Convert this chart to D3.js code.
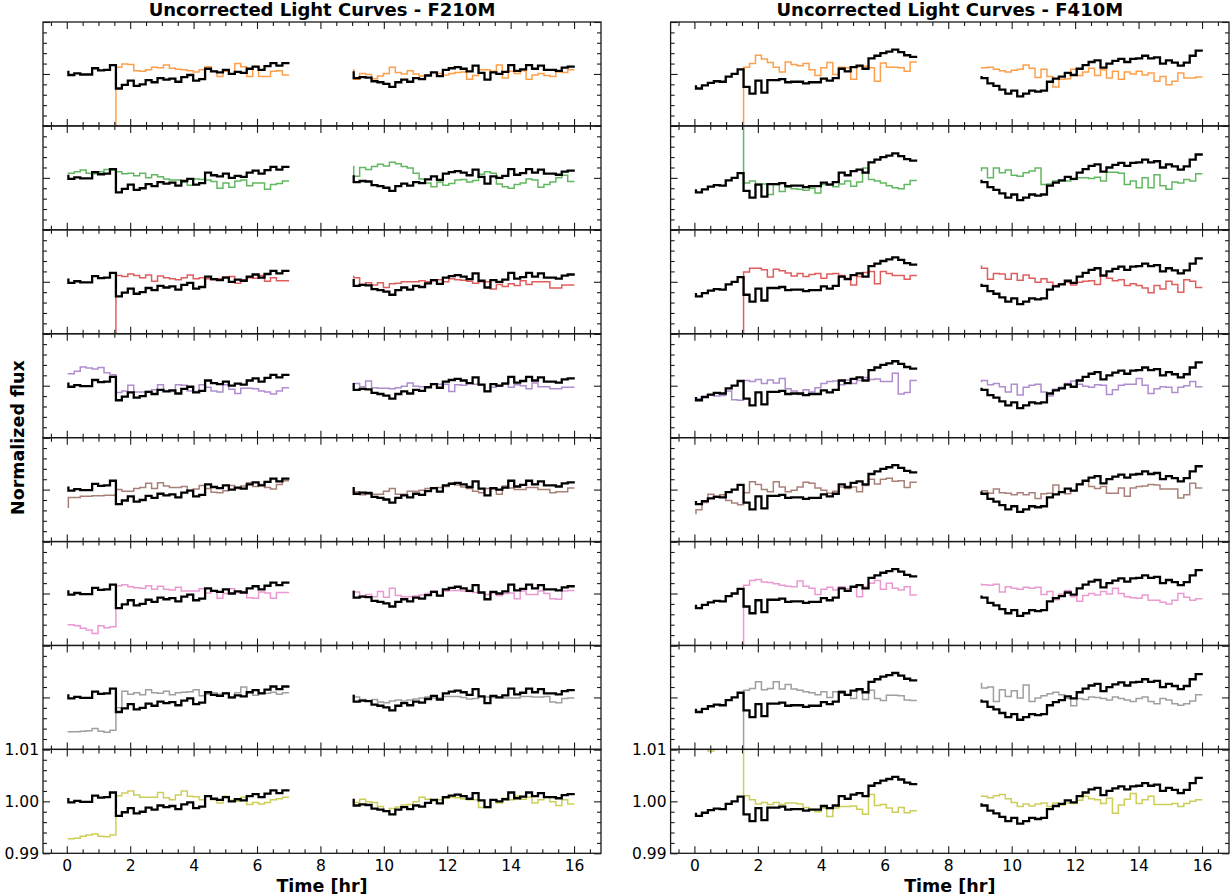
<!DOCTYPE html>
<html><head><meta charset="utf-8">
<script src="https://cdn.jsdelivr.net/npm/d3@7"></script>
<style>body{margin:0;background:#fff}svg{display:block}text{font-family:"DejaVu Sans",sans-serif}</style>
</head><body><svg id="c" width="1232" height="895"></svg>
<script>
// ---------------- DATA ----------------
const titles = ["Uncorrected Light Curves - F210M", "Uncorrected Light Curves - F410M"];
const xLabel = "Time [hr]";
const yLabel = "Normalized flux";
const xTicks = [0, 2, 4, 6, 8, 10, 12, 14, 16];
const yTicks = [0.99, 1.00, 1.01];
const seriesColors = ["#ff7f0e", "#2ca02c", "#d62728", "#9467bd", "#8c564b", "#e377c2", "#7f7f7f", "#bcbd22"];

const timeA = [0.05,0.2375,0.425,0.6125,0.8,0.9875,1.175,1.3625,1.55,1.7375,1.925,2.1125,2.3,2.4875,2.675,2.8625,3.05,3.2375,3.425,3.6125,3.8,3.9875,4.175,4.3625,4.55,4.7375,4.925,5.1125,5.3,5.4875,5.675,5.8625,6.05,6.2375,6.425,6.6125,6.8,6.9875];
const timeB = [9.05,9.2375,9.425,9.6125,9.8,9.9875,10.175,10.3625,10.55,10.7375,10.925,11.1125,11.3,11.4875,11.675,11.8625,12.05,12.2375,12.425,12.6125,12.8,12.9875,13.175,13.3625,13.55,13.7375,13.925,14.1125,14.3,14.4875,14.675,14.8625,15.05,15.2375,15.425,15.6125,15.8,15.9875];

// F210M
const f210_black_1 = [1.0004,0.9998,1.0001,0.9999,0.9999,1.0011,1.0007,1.0008,1.0017,0.9972,0.9979,0.9987,0.9977,0.9980,0.9988,0.9984,0.9992,0.9989,0.9991,0.9985,0.9994,0.9998,0.9987,0.9990,1.0010,1.0005,1.0003,1.0008,1.0000,1.0004,1.0002,1.0010,1.0014,1.0008,1.0015,1.0021,1.0016,1.0021];
const f210_black_2 = [1.0003,0.9992,0.9994,0.9993,0.9986,0.9984,0.9981,0.9975,0.9984,0.9989,0.9985,0.9992,0.9990,0.9997,1.0003,0.9996,1.0008,1.0011,1.0013,1.0010,1.0005,1.0016,1.0002,0.9989,1.0003,1.0000,1.0004,1.0017,1.0006,1.0009,1.0017,1.0010,1.0016,1.0008,1.0008,1.0006,1.0012,1.0014];
const f210_orange_1 = [null,null,null,null,null,null,null,null,0.95,1.0013,1.0019,1.0018,1.0006,1.0005,1.0008,1.0013,1.0012,1.0017,1.0011,1.0009,1.0008,1.0006,1.0004,1.0008,1.0014,1.0005,0.9995,1.0005,1.0000,1.0020,1.0014,0.9995,1.0014,0.9995,0.9995,1.0005,1.0006,0.9998];
const f210_orange_2 = [1.0008,0.9990,1.0001,0.9999,0.9991,0.9996,1.0001,1.0013,1.0003,1.0000,1.0006,1.0000,0.9996,0.9998,1.0003,1.0001,0.9998,1.0001,1.0003,1.0004,0.9990,0.9997,1.0008,1.0008,1.0005,1.0017,0.9992,1.0005,1.0001,1.0006,0.9990,0.9998,1.0001,0.9997,0.9995,1.0004,1.0003,1.0008];
const f210_green_1 = [1.0009,1.0009,1.0012,1.0015,1.0009,1.0008,1.0012,1.0016,1.0015,1.0012,1.0008,1.0009,1.0004,1.0009,1.0000,1.0006,1.0002,0.9998,0.9996,0.9996,0.9992,0.9986,0.9998,0.9997,0.9996,0.9993,0.9980,0.9990,0.9982,0.9994,0.9996,0.9985,0.9990,0.9990,0.9978,0.9987,0.9989,0.9994];
const f210_green_2 = [1.0022,1.0003,1.0020,1.0016,1.0022,1.0026,1.0023,1.0030,1.0027,1.0022,1.0019,1.0009,0.9998,0.9990,0.9983,0.9992,0.9986,0.9989,0.9996,0.9997,0.9992,0.9995,1.0007,1.0012,1.0009,0.9988,0.9983,0.9980,0.9987,0.9990,0.9998,0.9996,0.9982,0.9987,0.9992,1.0000,1.0005,0.9993];
const f210_red_1 = [null,null,null,null,null,null,null,null,0.95,1.0012,1.0010,1.0015,1.0012,1.0008,1.0013,1.0001,1.0011,1.0008,1.0006,1.0004,1.0008,1.0013,1.0006,1.0008,1.0006,1.0004,1.0006,1.0009,1.0010,0.9997,1.0004,1.0008,1.0007,1.0012,1.0001,1.0008,1.0002,1.0002];
const f210_red_2 = [1.0010,1.0008,0.9995,0.9998,0.9994,0.9998,0.9989,0.9996,0.9997,1.0000,1.0000,1.0000,1.0002,1.0000,1.0002,1.0004,1.0000,1.0006,1.0004,1.0003,1.0001,0.9997,1.0000,1.0000,0.9986,0.9995,0.9991,0.9996,0.9993,1.0002,0.9995,1.0000,1.0000,1.0000,0.9988,0.9988,0.9994,0.9994];
const f210_purple_1 = [1.0023,1.0023,1.0028,1.0036,1.0034,1.0032,1.0035,1.0025,1.0021,0.9987,0.9990,1.0001,0.9988,0.9988,0.9989,0.9992,1.0002,0.9990,0.9989,1.0002,1.0001,0.9990,0.9989,1.0002,0.9997,0.9990,0.9988,1.0002,0.9993,0.9985,0.9995,0.9995,0.9994,0.9990,0.9988,0.9984,0.9990,0.9996];
const f210_purple_2 = [1.0004,1.0004,0.9998,1.0009,0.9996,0.9995,0.9995,0.9994,0.9996,0.9999,1.0005,0.9999,0.9998,0.9998,1.0003,1.0003,1.0003,0.9989,1.0002,1.0001,1.0004,1.0003,1.0002,0.9990,0.9997,0.9999,1.0005,0.9997,1.0002,1.0000,0.9994,1.0005,0.9998,0.9998,0.9994,0.9994,0.9997,0.9997];
const f210_brown_1 = [0.9966,0.9985,0.9985,0.9987,0.9987,0.9988,0.9988,0.9989,0.9989,1.0000,0.9997,0.9997,1.0002,1.0004,1.0012,1.0002,1.0013,1.0007,1.0004,1.0004,1.0006,0.9999,1.0001,1.0008,1.0002,0.9995,0.9994,0.9998,1.0008,1.0002,1.0007,1.0013,1.0006,1.0010,1.0004,1.0001,1.0010,1.0017];
const f210_brown_2 = [0.9999,0.9996,0.9990,0.9995,0.9991,0.9991,0.9997,1.0002,0.9991,0.9991,0.9997,0.9997,0.9999,1.0002,1.0002,1.0004,1.0006,1.0013,1.0009,1.0005,1.0002,0.9997,0.9994,1.0002,1.0001,0.9991,1.0007,1.0003,1.0000,1.0000,1.0004,1.0004,1.0000,1.0000,0.9994,0.9996,0.9996,1.0003];
const f210_pink_1 = [0.9940,0.9940,0.9938,0.9933,0.9930,0.9923,0.9938,0.9934,0.9936,1.0015,1.0017,1.0013,1.0011,1.0010,1.0015,1.0008,1.0014,1.0008,1.0007,1.0012,1.0005,1.0005,1.0005,1.0009,1.0001,1.0006,0.9991,1.0000,1.0009,1.0002,1.0004,0.9992,0.9991,1.0003,1.0001,0.9991,1.0002,1.0002];
const f210_pink_2 = [1.0005,1.0003,0.9995,0.9998,0.9994,1.0004,0.9993,1.0010,0.9996,0.9994,0.9994,0.9995,0.9997,1.0000,1.0005,0.9995,1.0005,1.0006,1.0006,1.0005,1.0004,1.0002,1.0001,0.9998,1.0001,0.9996,1.0000,1.0001,0.9990,1.0005,0.9998,0.9998,1.0005,1.0000,0.9990,0.9989,1.0005,1.0006];
const f210_gray_1 = [0.9934,0.9934,0.9934,0.9935,0.9936,0.9940,0.9935,0.9933,0.9937,0.9980,1.0012,1.0006,1.0009,1.0005,1.0015,1.0009,1.0008,1.0012,1.0005,1.0009,1.0010,1.0011,1.0015,1.0003,1.0006,1.0009,1.0006,1.0009,0.9999,1.0009,1.0020,1.0010,1.0004,1.0009,1.0008,1.0010,1.0006,1.0009];
const f210_gray_2 = [1.0004,1.0001,0.9996,0.9993,0.9996,0.9991,0.9990,0.9993,0.9995,0.9993,0.9995,0.9997,0.9999,1.0001,0.9999,0.9999,1.0002,1.0002,1.0002,1.0000,0.9997,0.9998,1.0002,1.0001,1.0000,1.0000,0.9999,0.9999,0.9999,1.0002,1.0002,1.0001,1.0001,1.0002,0.9991,0.9990,0.9998,0.9999];
const f210_olive_1 = [0.9928,0.9928,0.9929,0.9933,0.9935,0.9937,0.9933,0.9932,0.9935,1.0011,1.0016,1.0020,1.0012,1.0008,1.0008,1.0008,1.0017,1.0007,1.0003,1.0012,1.0020,1.0010,1.0009,1.0003,1.0010,1.0003,0.9997,1.0010,1.0002,1.0000,1.0008,0.9994,0.9998,0.9995,0.9998,1.0003,1.0005,1.0008];
const f210_olive_2 = [1.0003,0.9998,1.0004,0.9999,0.9998,0.9990,0.9982,0.9986,0.9989,0.9993,0.9994,0.9999,1.0008,1.0004,1.0000,1.0003,1.0006,1.0008,1.0007,1.0005,1.0003,1.0003,0.9988,0.9988,1.0003,0.9997,1.0006,1.0003,1.0010,1.0004,1.0008,0.9997,1.0003,1.0008,0.9999,0.9992,1.0003,0.9995];

// F410M
const f410_black_1 = [0.9976,0.9972,0.9978,0.9983,0.9986,0.9985,0.9995,1.0000,1.0009,0.9975,0.9962,0.9987,0.9964,0.9988,0.9988,0.9990,0.9984,0.9985,0.9985,0.9982,0.9984,0.9984,0.9991,0.9987,0.9992,1.0010,1.0005,1.0013,1.0016,1.0010,1.0030,1.0035,1.0040,1.0043,1.0047,1.0042,1.0036,1.0033];
const f410_black_2 = [0.9994,0.9992,0.9982,0.9977,0.9970,0.9962,0.9968,0.9957,0.9962,0.9968,0.9966,0.9968,0.9985,0.9991,0.9995,1.0002,0.9998,1.0010,1.0017,1.0023,1.0026,1.0012,1.0020,1.0025,1.0029,1.0023,1.0029,1.0030,1.0035,1.0030,1.0032,1.0020,1.0026,1.0022,1.0016,1.0022,1.0035,1.0045];
const f410_orange_1 = [null,null,null,null,null,null,null,null,0.95,1.0013,1.0020,1.0036,1.0029,1.0022,1.0013,1.0004,1.0023,1.0018,1.0016,1.0020,1.0008,0.9997,1.0012,1.0022,0.9999,1.0013,1.0012,0.9990,1.0014,1.0015,1.0012,0.9986,1.0021,1.0013,1.0013,1.0012,1.0005,1.0023];
const f410_orange_2 = [1.0012,1.0012,1.0013,1.0009,1.0006,1.0004,1.0007,1.0009,1.0017,1.0011,0.9993,1.0009,0.9995,0.9975,0.9990,0.9991,1.0009,0.9997,1.0004,1.0011,0.9997,1.0008,0.9992,1.0005,0.9990,1.0004,1.0000,1.0005,0.9998,1.0002,0.9986,0.9995,0.9979,0.9986,1.0002,0.9992,0.9992,0.9994];
const f410_green_1 = [null,null,null,null,null,null,null,null,1.02,0.9990,0.9994,0.9988,0.9988,0.9968,0.9987,0.9974,0.9982,0.9979,0.9978,0.9976,0.9980,0.9971,0.9987,0.9988,0.9983,0.9988,0.9994,0.9984,0.9992,1.0019,0.9997,0.9994,0.9990,0.9985,0.9981,0.9979,0.9987,0.9995];
const f410_green_2 = [1.0014,1.0019,1.0000,1.0019,1.0010,1.0015,1.0005,1.0003,1.0010,1.0013,1.0019,0.9987,0.9988,0.9994,0.9994,0.9994,0.9997,1.0000,1.0000,0.9999,1.0001,0.9994,1.0011,1.0011,1.0009,0.9987,0.9994,0.9981,1.0000,0.9981,1.0006,0.9985,0.9978,0.9992,0.9990,0.9997,0.9994,1.0008];
const f410_red_1 = [null,null,null,null,null,null,null,null,0.95,1.0019,1.0026,1.0026,1.0023,1.0009,1.0024,1.0021,1.0017,1.0011,1.0016,1.0010,1.0014,1.0016,1.0007,1.0015,1.0016,1.0012,1.0007,0.9994,1.0010,1.0018,1.0020,0.9996,1.0020,1.0016,1.0012,1.0012,1.0005,1.0012];
const f410_red_2 = [1.0030,1.0026,1.0005,1.0016,1.0015,1.0005,1.0016,1.0003,1.0013,1.0007,0.9999,1.0006,0.9999,0.9993,0.9996,0.9999,0.9994,0.9999,1.0001,1.0002,0.9995,1.0013,1.0007,1.0002,1.0004,0.9993,0.9996,0.9993,0.9988,0.9979,0.9993,0.9986,1.0001,0.9995,0.9980,1.0004,1.0001,0.9989];
const f410_purple_1 = [0.9976,0.9975,0.9980,0.9982,0.9980,0.9981,0.9990,0.9973,0.9972,1.0010,1.0008,1.0012,1.0004,1.0011,1.0005,1.0014,0.9994,0.9990,0.9983,0.9992,0.9988,0.9996,1.0004,1.0008,1.0009,1.0002,1.0011,1.0004,1.0010,1.0016,1.0012,1.0013,1.0008,1.0008,1.0024,0.9984,0.9987,1.0010];
const f410_purple_2 = [1.0008,1.0010,1.0002,1.0004,0.9998,0.9988,1.0003,0.9982,0.9997,1.0001,1.0003,0.9988,0.9980,0.9993,0.9997,1.0004,1.0009,1.0003,0.9999,0.9997,1.0002,1.0001,0.9983,0.9992,1.0001,1.0003,1.0003,1.0014,1.0001,0.9985,0.9994,0.9998,0.9997,0.9987,0.9997,1.0000,1.0008,0.9998];
const f410_brown_1 = [0.9954,0.9961,0.9975,0.9991,0.9987,0.9990,0.9979,0.9974,0.9971,0.9994,1.0015,1.0010,1.0000,0.9996,1.0015,1.0005,0.9996,0.9999,1.0005,1.0014,1.0012,1.0003,0.9999,0.9993,0.9997,1.0005,1.0002,1.0005,0.9996,1.0008,1.0020,1.0011,1.0020,1.0022,1.0016,1.0017,1.0004,1.0014];
const f410_brown_2 = [0.9993,0.9998,0.9993,1.0001,0.9994,0.9993,0.9990,0.9994,0.9990,0.9994,0.9983,0.9992,0.9993,1.0009,0.9996,0.9992,0.9998,1.0011,1.0016,1.0006,1.0002,1.0006,0.9993,0.9993,1.0003,0.9987,1.0003,1.0006,1.0007,1.0010,1.0009,1.0001,1.0001,1.0001,0.9984,0.9990,1.0012,1.0003];
const f410_pink_1 = [null,null,null,null,null,null,null,null,0.95,1.0016,1.0025,1.0027,1.0022,1.0021,1.0019,1.0016,1.0014,1.0013,1.0024,1.0014,1.0010,0.9998,1.0008,1.0012,1.0007,1.0013,1.0009,1.0013,0.9994,1.0013,1.0020,1.0025,1.0008,1.0020,1.0010,1.0007,1.0013,0.9997];
const f410_pink_2 = [1.0018,1.0017,1.0016,1.0018,1.0003,1.0013,1.0010,1.0008,1.0012,1.0010,1.0012,0.9998,1.0004,0.9988,0.9999,1.0006,0.9994,0.9985,0.9996,1.0000,0.9997,1.0004,0.9999,1.0010,1.0000,0.9994,0.9992,0.9991,0.9997,0.9987,0.9987,0.9983,0.9980,0.9987,1.0000,0.9993,0.9987,0.9990];
const f410_gray_1 = [null,null,null,null,null,null,null,null,0.95,1.0014,1.0017,1.0030,1.0015,1.0017,1.0030,1.0016,1.0025,1.0016,1.0014,1.0011,1.0009,1.0005,1.0011,1.0000,1.0011,1.0013,1.0004,0.9998,1.0014,0.9996,1.0014,0.9998,0.9994,1.0004,1.0004,1.0003,0.9995,0.9994];
const f410_gray_2 = [1.0027,1.0018,1.0020,0.9992,1.0015,1.0002,1.0013,0.9999,1.0024,0.9992,0.9999,1.0003,1.0007,1.0010,1.0005,0.9998,0.9984,0.9998,0.9996,1.0001,1.0000,0.9998,0.9995,1.0001,0.9998,0.9995,0.9992,0.9998,1.0001,0.9992,0.9988,0.9998,0.9995,0.9988,0.9985,0.9988,0.9993,1.0005];
const f410_olive_1 = [1.0120,1.0120,1.0112,1.0097,1.0108,1.0115,1.0118,1.0109,1.0102,1.0011,1.0003,0.9995,0.9998,0.9994,0.9998,0.9994,0.9997,0.9997,0.9995,0.9988,0.9985,0.9980,0.9987,0.9971,0.9987,0.9990,0.9990,0.9991,0.9985,0.9975,1.0013,0.9992,0.9994,0.9987,0.9979,0.9988,0.9978,0.9982];
const f410_olive_2 = [1.0010,1.0010,1.0007,1.0011,1.0013,1.0005,0.9998,0.9990,0.9995,0.9991,0.9995,0.9997,0.9990,0.9997,0.9993,0.9997,0.9996,1.0002,1.0010,1.0005,1.0003,0.9996,1.0006,0.9977,0.9993,1.0004,1.0015,0.9996,1.0003,1.0010,0.9994,0.9994,0.9994,0.9996,0.9990,0.9996,1.0000,1.0003];

// --------- tables built from the named arrays ---------
const columns = [
  { title: titles[0], black: [f210_black_1, f210_black_2],
    series: [[f210_orange_1,f210_orange_2],[f210_green_1,f210_green_2],[f210_red_1,f210_red_2],[f210_purple_1,f210_purple_2],
             [f210_brown_1,f210_brown_2],[f210_pink_1,f210_pink_2],[f210_gray_1,f210_gray_2],[f210_olive_1,f210_olive_2]] },
  { title: titles[1], black: [f410_black_1, f410_black_2],
    series: [[f410_orange_1,f410_orange_2],[f410_green_1,f410_green_2],[f410_red_1,f410_red_2],[f410_purple_1,f410_purple_2],
             [f410_brown_1,f410_brown_2],[f410_pink_1,f410_pink_2],[f410_gray_1,f410_gray_2],[f410_olive_1,f410_olive_2]] }
];
const segTimes = [timeA, timeB];

// ---------------- LAYOUT ----------------
const svg = d3.select("#c");
const topY = 22, bottomY = 853.3, nP = 8, ph = (bottomY - topY) / nP;
const colBounds = [[43, 601], [670.6, 1229]];
const xDomain = [-0.75, 16.85];
const yDomain = [0.99, 1.01];
const xMinor = d3.range(-0.5, 16.75, 0.5).filter(v => Math.abs(v % 2) > 1e-9);
const yMinor = d3.range(0.992, 1.0095, 0.002).filter(v => Math.abs(v - 1) > 1e-9);
const frameColor = "#1a1a1a";
const tickFont = 15.5;
const labelFont = 17.5;
const titleFont = 18;

const defs = svg.append("defs");

columns.forEach((col, c) => {
  const [x0, x1] = colBounds[c];
  const x = d3.scaleLinear().domain(xDomain).range([x0, x1]);
  const cx = (x0 + x1) / 2;

  svg.append("text").attr("x", cx).attr("y", 15.5).attr("text-anchor", "middle")
    .attr("font-size", titleFont).attr("font-weight", "bold").attr("fill", "#000").text(col.title);
  svg.append("text").attr("x", cx).attr("y", 891.5).attr("text-anchor", "middle")
    .attr("font-size", labelFont).attr("font-weight", "bold").attr("fill", "#000").text(xLabel);

  for (let k = 0; k < nP; k++) {
    const py0 = topY + ph * k, py1 = topY + ph * (k + 1);
    const y = d3.scaleLinear().domain(yDomain).range([py1, py0]);
    const g = svg.append("g");
    const clipId = `clip-${c}-${k}`;
    defs.append("clipPath").attr("id", clipId).append("rect")
      .attr("x", x0).attr("y", py0).attr("width", x1 - x0).attr("height", py1 - py0);

    const line = d3.line().defined(d => d[1] != null)
      .x(d => x(d[0])).y(d => y(d[1])).curve(d3.curveStepBefore);
    const lines = g.append("g").attr("clip-path", `url(#${clipId})`);

    const drawSeg = (vals, times, color, width, op) => {
      const data = times.map((t, i) => [t, vals[i] === undefined ? null : vals[i]]);
      lines.append("path").attr("d", line(data)).attr("fill", "none")
        .attr("stroke", color).attr("stroke-width", width).attr("stroke-opacity", op)
        .attr("stroke-linejoin", "miter").attr("stroke-linecap", "square");
    };
    col.series[k].forEach((vals, s) => drawSeg(vals, segTimes[s], seriesColors[k], 1.5, 0.75));
    col.black.forEach((vals, s) => drawSeg(vals, segTimes[s], "#000", 2.3, 1));

    const styleAxis = sel => {
      sel.select(".domain").remove();
      sel.attr("font-size", tickFont).attr("font-family", "DejaVu Sans").attr("color", frameColor);
      sel.selectAll("line").attr("stroke-width", 1.1);
      sel.selectAll("text").attr("fill", "#000");
    };
    const last = k === nP - 1;
    g.append("g").attr("transform", `translate(0,${py1})`)
      .call(d3.axisBottom(x).tickValues(xTicks).tickSizeInner(-7).tickSizeOuter(0).tickPadding(6.5)
        .tickFormat(last ? d3.format("d") : () => "")).call(styleAxis);
    g.append("g").attr("transform", `translate(0,${py1})`)
      .call(d3.axisBottom(x).tickValues(xMinor).tickSizeInner(-4).tickSizeOuter(0).tickFormat(() => "")).call(styleAxis);
    g.append("g").attr("transform", `translate(0,${py0})`)
      .call(d3.axisTop(x).tickValues(xTicks).tickSizeInner(-7).tickSizeOuter(0).tickFormat(() => "")).call(styleAxis);
    g.append("g").attr("transform", `translate(0,${py0})`)
      .call(d3.axisTop(x).tickValues(xMinor).tickSizeInner(-4).tickSizeOuter(0).tickFormat(() => "")).call(styleAxis);
    g.append("g").attr("transform", `translate(${x0},0)`)
      .call(d3.axisLeft(y).tickValues(yTicks).tickSizeInner(-7).tickSizeOuter(0).tickPadding(4)
        .tickFormat(last ? d3.format(".2f") : () => "")).call(styleAxis);
    g.append("g").attr("transform", `translate(${x0},0)`)
      .call(d3.axisLeft(y).tickValues(yMinor).tickSizeInner(-4).tickSizeOuter(0).tickFormat(() => "")).call(styleAxis);
    g.append("g").attr("transform", `translate(${x1},0)`)
      .call(d3.axisRight(y).tickValues(yTicks).tickSizeInner(-7).tickSizeOuter(0).tickFormat(() => "")).call(styleAxis);
    g.append("g").attr("transform", `translate(${x1},0)`)
      .call(d3.axisRight(y).tickValues(yMinor).tickSizeInner(-4).tickSizeOuter(0).tickFormat(() => "")).call(styleAxis);

    g.append("rect").attr("x", x0).attr("y", py0).attr("width", x1 - x0).attr("height", py1 - py0)
      .attr("fill", "none").attr("stroke", frameColor).attr("stroke-width", 1.3);
  }
});

svg.append("text").attr("transform", `translate(24,${(topY + bottomY) / 2}) rotate(-90)`)
  .attr("text-anchor", "middle").attr("font-size", labelFont).attr("font-weight", "bold")
  .attr("fill", "#000").text(yLabel);
</script></body></html>
